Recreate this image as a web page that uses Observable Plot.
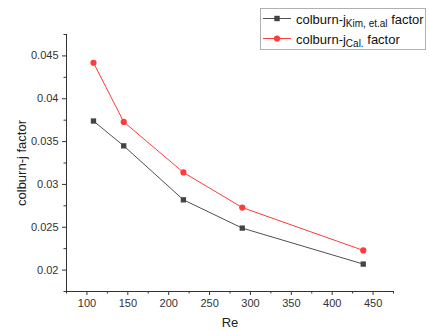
<!DOCTYPE html>
<html><head><meta charset="utf-8">
<script src="https://cdn.jsdelivr.net/npm/d3@7"></script>
<script src="https://cdn.jsdelivr.net/npm/@observablehq/plot@0.6"></script>
<style>
body{margin:0;background:#fff;font-family:"Liberation Sans",Arial,sans-serif}
#wrap{position:relative;width:429px;height:331px}
#wrap svg{position:absolute;left:0;top:0}
</style>
</head><body><div id="wrap"></div>
<script>
const re = [108, 145, 218, 290, 438];
const jKim = [0.0374, 0.0345, 0.0282, 0.0249, 0.0207];
const jCal = [0.0442, 0.0373, 0.0314, 0.0273, 0.0223];
const seriesKeys = ["kim", "cal"];
const seriesColors = ["#505050", "#ff3b3b"];
const legendMain = ["colburn-j", "colburn-j"];
const legendSub = ["Kim, et.al", "Cal."];
const legendTail = " factor";
const xDomain = [75, 475];
const yDomain = [0.0175, 0.0475];
const xMajor = [100, 150, 200, 250, 300, 350, 400, 450];
const xMinor = [75, 125, 175, 225, 275, 325, 375, 425, 475];
const yMajor = [0.02, 0.025, 0.03, 0.035, 0.04, 0.045];
const yMinor = [0.0175, 0.0225, 0.0275, 0.0325, 0.0375, 0.0425, 0.0475];
const xTitle = "Re";
const yTitle = "colburn-j factor";

const rows = [];
re.forEach((r, i) => {
  rows.push({re: r, j: jKim[i], s: "kim"});
  rows.push({re: r, j: jCal[i], s: "cal"});
});
const kimRows = rows.filter(d => d.s === "kim");
const calRows = rows.filter(d => d.s === "cal");

const axisColor = "#333";
const chart = Plot.plot({
  width: 429, height: 331,
  marginLeft: 66, marginRight: 36, marginTop: 34, marginBottom: 40,
  style: {fontFamily: "'Liberation Sans', Arial, sans-serif", fontSize: "11px", color: axisColor, background: "transparent"},
  x: {domain: xDomain, axis: null},
  y: {domain: yDomain, axis: null},
  color: {domain: seriesKeys, range: seriesColors},
  marks: [
    Plot.ruleX([xDomain[0]], {stroke: axisColor, strokeWidth: 1}),
    Plot.ruleY([yDomain[0]], {stroke: axisColor, strokeWidth: 1}),
    Plot.axisX(xMajor, {tickSize: 4, tickPadding: 4, stroke: axisColor, fill: axisColor, label: null, tickFormat: d => String(d)}),
    Plot.axisX(xMinor, {tickSize: 2.5, stroke: axisColor, label: null, tickFormat: null, text: null}),
    Plot.axisY(yMajor, {tickSize: 4, tickPadding: 4, stroke: axisColor, fill: axisColor, label: null, tickFormat: d => String(d)}),
    Plot.axisY(yMinor, {tickSize: 2.5, stroke: axisColor, label: null, tickFormat: null, text: null}),
    Plot.text([yTitle], {frameAnchor: "left", rotate: -90, dx: -45, fontSize: 13, fill: "#222", lineAnchor: "middle", textAnchor: "middle"}),
    Plot.text([xTitle], {frameAnchor: "bottom", dy: 31.5, fontSize: 13, fill: "#222", lineAnchor: "middle", textAnchor: "middle"}),
    Plot.line(kimRows, {x: "re", y: "j", stroke: "s", strokeWidth: 1}),
    Plot.line(calRows, {x: "re", y: "j", stroke: "s", strokeWidth: 1}),
    Plot.dot(kimRows, {x: "re", y: "j", fill: "#444", symbol: "square", r: 3}),
    Plot.dot(calRows, {x: "re", y: "j", fill: "#ff3b3b", symbol: "circle", r: 3.1})
  ]
});
const wrap = document.getElementById("wrap");
wrap.appendChild(chart);

// legend overlay
const leg = d3.create("svg").attr("width", 429).attr("height", 331)
  .style("font-family", "'Liberation Sans', Arial, sans-serif").style("pointer-events", "none");
leg.append("rect").attr("x", 260.5).attr("y", 8.5).attr("width", 165).attr("height", 41)
  .attr("fill", "#fff").attr("stroke", "#b0b0b0").attr("stroke-width", 1);
seriesKeys.forEach((k, i) => {
  const ly = 18.5 + i * 20;
  const g = leg.append("g");
  g.append("line").attr("x1", 263).attr("x2", 291).attr("y1", ly).attr("y2", ly)
    .attr("stroke", seriesColors[i]).attr("stroke-width", 1);
  if (k === "kim") {
    g.append("rect").attr("x", 277 - 2.7).attr("y", ly - 2.7).attr("width", 5.4).attr("height", 5.4).attr("fill", "#444");
  } else {
    g.append("circle").attr("cx", 277).attr("cy", ly).attr("r", 3.1).attr("fill", "#ff3b3b");
  }
  const t = g.append("text").attr("x", 296).attr("y", ly + 5.5).attr("font-size", 13).attr("fill", "#111");
  t.append("tspan").text(legendMain[i]);
  t.append("tspan").attr("font-size", 10).attr("dy", 3).text(legendSub[i]);
  t.append("tspan").attr("dy", -3).text(legendTail);
});
wrap.appendChild(leg.node());
</script>
</body></html>
